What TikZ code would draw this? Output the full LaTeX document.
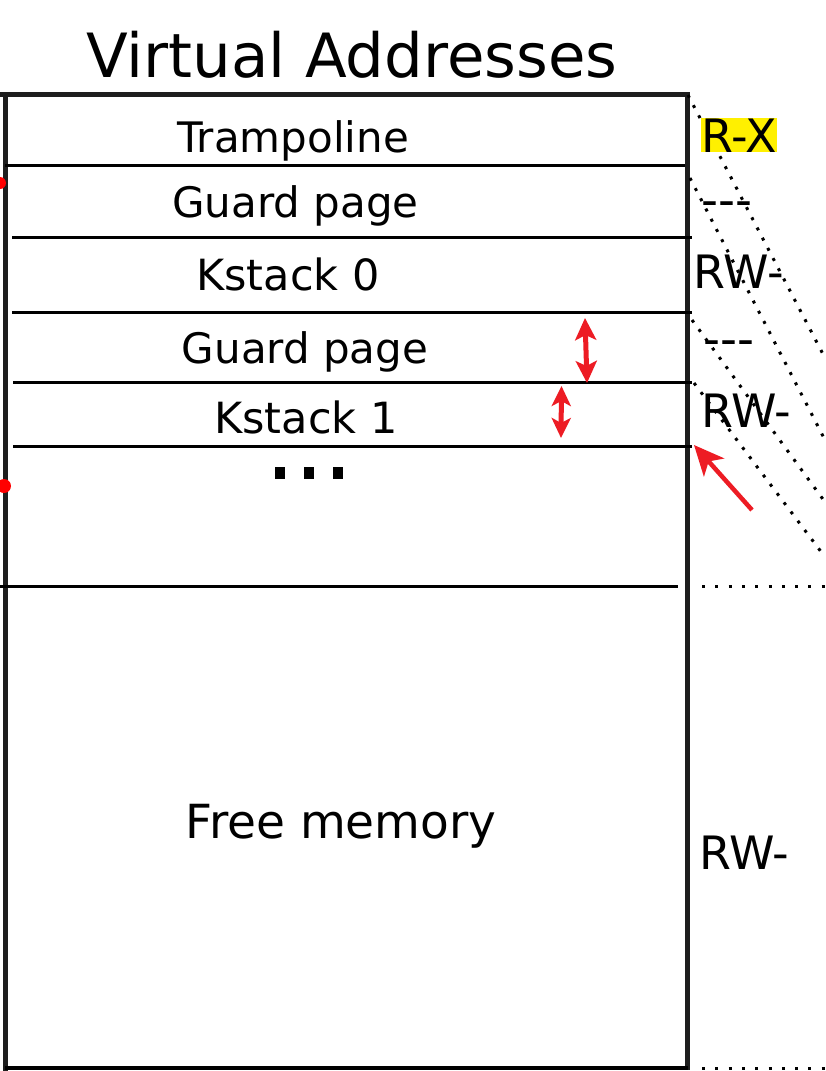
\documentclass[tikz,border=0pt]{standalone}
\usepackage{fontspec}
\setmainfont{DejaVu Sans}
\usetikzlibrary{arrows.meta}
\definecolor{arrred}{RGB}{237,28,36}
\definecolor{dotred}{RGB}{255,0,0}
\definecolor{hlyellow}{RGB}{255,240,0}
\definecolor{framegray}{RGB}{30,30,30}
\newcommand\fsz[1]{\fontsize{#1pt}{#1pt}\selectfont}
\begin{document}
\begin{tikzpicture}[x=1pt,y=-1pt,
  border/.style={line width=5pt,draw=framegray},
  sepline/.style={line width=3pt,draw=black},
  dotl/.style={line width=3pt,dash pattern=on 3pt off 8.5pt},
  doth/.style={line width=3pt,dash pattern=on 3pt off 10.3pt},
  lbl/.style={inner sep=0pt,anchor=base,font=\fsz{42}},
  perm/.style={inner sep=0pt,anchor=base west,font=\fsz{46}},
  redarr/.style={draw=arrred,fill=arrred,line width=5pt},
]
\useasboundingbox[fill=white] (0,0) rectangle (825,1071);

% frame
\draw[border] (0,94.5) -- (687.5,94.5) -- (687.5,1070);
\draw[border] (5.5,92) -- (5.5,1071);
\draw[line width=4pt,draw=black] (5,1068) -- (687.5,1068);

% separators
\draw[sepline] (5,165) -- (685,165);
\draw[sepline] (12,237.5) -- (692,237.5);
\draw[sepline] (12,312.5) -- (692,312.5);
\draw[sepline] (13,382) -- (692,382);
\draw[sepline] (13,446) -- (692,446);
\draw[sepline] (0,586) -- (678,586);

% dotted guides
\draw[dotl] (688,95) -- (825,358);
\draw[dotl] (690,178) -- (825,440);
\draw[dotl] (692,320) -- (825,502);
\draw[dotl] (694,383) -- (825,557);
\draw[doth] (702,586) -- (825,586);
\draw[doth] (702,1068) -- (825,1068);

% title and cell labels
\node[lbl,font=\fsz{61}] (title) at (352,77) {Virtual Addresses};
\node[lbl] (tramp) at (293,152) {Trampoline};
\node[lbl] (guard0) at (295.5,217) {Guard page};
\node[lbl,font=\fsz{43}] (kstack0) at (288,290) {Kstack 0};
\node[lbl] (guard1) at (305,363) {Guard page};
\node[lbl,font=\fsz{43}] (kstack1) at (306,433) {Kstack 1};
\node[lbl,font=\fsz{47}] (free) at (341,838) {Free memory};

% ellipsis
\fill (275,467) rectangle (285,479);
\fill (304,467) rectangle (314,479);
\fill (333,467) rectangle (343,479);

% permissions
\node[perm,fill=hlyellow,text height=34pt,text depth=0pt] (rx) at (701,152) {R-X};
\node[perm,font=\fsz{47}] (dash0) at (701,216) {-{}-{}-};
\node[perm] (rw0) at (693.5,288) {RW-};
\node[perm,font=\fsz{47}] (dash1) at (703,355) {-{}-{}-};
\node[perm] (rw1) at (701,427) {RW-};
\node[perm] (rw2) at (699,869) {RW-};

% red dots
\fill[dotred] (0,183) circle (6);
\fill[dotred] (4,486) circle (7);

% red arrows
\coordinate (a1s) at (585,318);
\coordinate (a1e) at (587,383);
\coordinate (a2s) at (561.5,386);
\coordinate (a2e) at (561,438);
\coordinate (a3s) at (752,510);
\coordinate (a3e) at (694,445);
\draw[redarr,{Stealth[length=22pt,width=21pt,inset=5pt]}-{Stealth[length=22pt,width=21pt,inset=5pt]}] (a1s) -- (a1e);
\draw[redarr,{Stealth[length=20pt,width=19pt,inset=5pt]}-{Stealth[length=20pt,width=19pt,inset=5pt]}] (a2s) -- (a2e);
\draw[redarr,line width=4.5pt,-{Stealth[length=30pt,width=27pt,inset=8pt]}] (a3s) -- (a3e);
\end{tikzpicture}
\end{document}
